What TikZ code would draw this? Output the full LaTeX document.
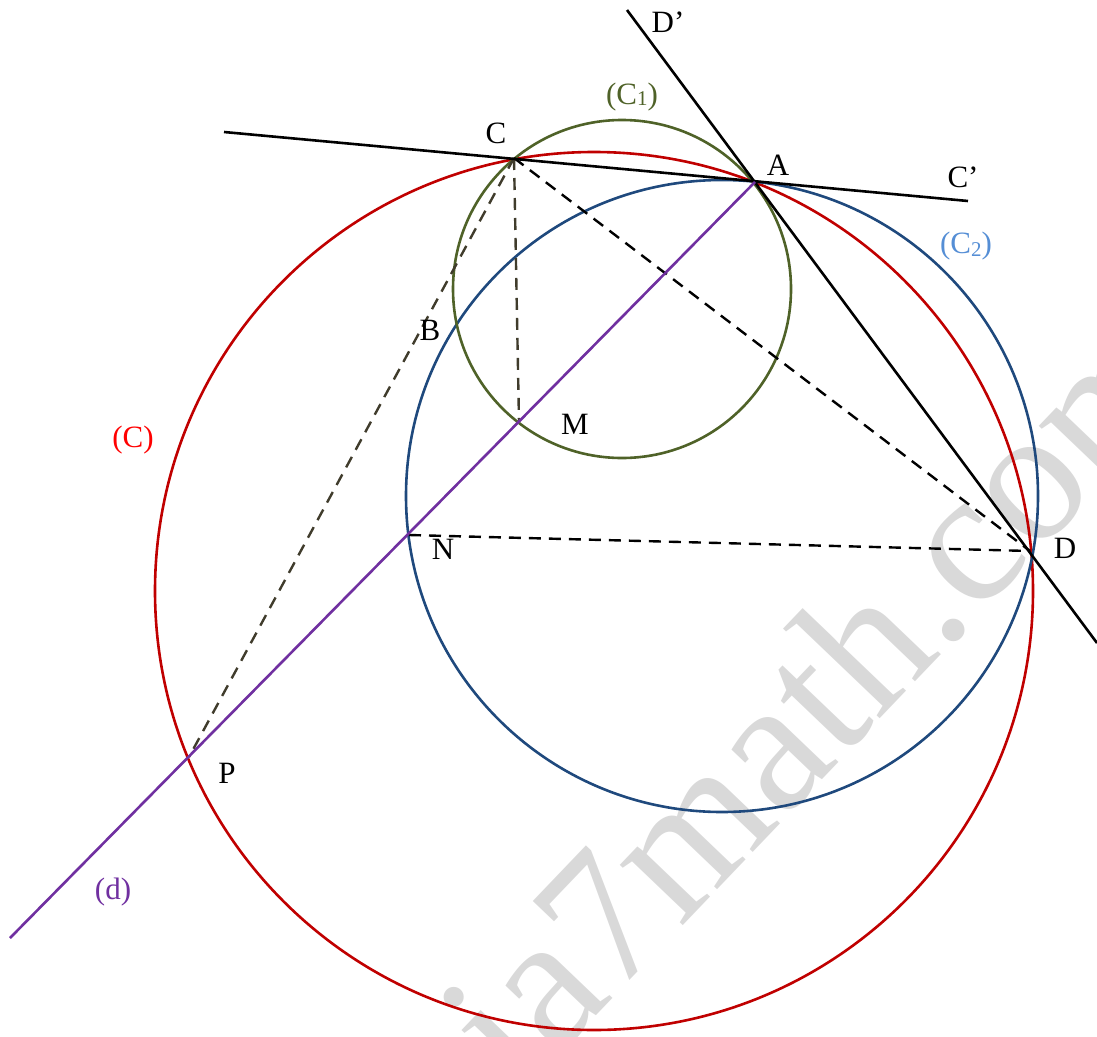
\documentclass[tikz,border=0pt]{standalone}
\usepackage{fontspec}
\setmainfont{Liberation Serif}
\definecolor{cred}{HTML}{C00000}
\definecolor{cblue}{HTML}{1F497D}
\definecolor{cgreen}{HTML}{4F6228}
\definecolor{cpurple}{HTML}{7030A0}
\definecolor{colive}{HTML}{403C2C}
\definecolor{lblblue}{HTML}{558ED5}
\definecolor{wmgray}{HTML}{D9D9D9}
\begin{document}
\begin{tikzpicture}[x=1pt,y=-1pt,
  curve/.style={line width=2.6pt},
  solidline/.style={line width=2.6pt, black},
  dashline/.style={line width=2.4pt, dash pattern=on 12pt off 8pt},
  lbl/.style={font=\fontsize{31}{36}\selectfont, inner sep=0pt}]
\useasboundingbox (0,0) rectangle (1097,1036);
% watermark
\node[rotate=46.3, anchor=base west, inner sep=0pt, text=wmgray,
  font=\fontsize{190}{190}\selectfont] (wm) at (520,1096) {ia7math.com};
% points
\coordinate (A) at (755,182);
\coordinate (C) at (514,158);
\coordinate (D) at (1030,551);
\coordinate (M) at (519,422);
\coordinate (N) at (409,535);
\coordinate (P) at (189,757);
\coordinate (L1) at (224,132);
\coordinate (L2) at (968,201);
\coordinate (T1) at (627,10);
\coordinate (T2) at (1097,643);
\coordinate (dend) at (10,938);
% circles
\draw[curve, cred] (594,591) circle[radius=439pt];
\draw[curve, cblue] (722,496) circle[radius=316pt];
\draw[curve, cgreen] (622,289) circle[radius=169pt];
% dashed segments
\draw[dashline, black] (C) -- (D);
\draw[dashline, black] (N) -- (D);
\draw[dashline, colive] (C) -- (M);
\draw[dashline, colive] (C) -- (P);
% lines
\draw[solidline] (L1) -- (L2);
\draw[solidline] (T1) -- (T2);
\draw[curve, cpurple] (A) -- (dend);
% labels
\node[lbl] (lC) at (496,133) {C};
\node[lbl] (lA) at (778,165) {A};
\node[lbl] (lCp) at (963,177) {C’};
\node[lbl] (lDp) at (668,22) {D’};
\node[lbl, text=cgreen] (lC1) at (632,97) {(C\raisebox{-1pt}{\fontsize{21}{21}\selectfont 1})};
\node[lbl, text=lblblue] (lC2) at (966,246) {(C\raisebox{-3pt}{\fontsize{21}{21}\selectfont 2})};
\node[lbl, text=red] (lCc) at (133,440) {(C)};
\node[lbl] (lB) at (430,330) {B};
\node[lbl] (lM) at (575,424) {M};
\node[lbl] (lN) at (443,549) {N};
\node[lbl] (lD) at (1065,548) {D};
\node[lbl] (lP) at (227,773) {P};
\node[lbl, text=cpurple] (ld) at (113,892) {(d)};
\end{tikzpicture}
\end{document}
